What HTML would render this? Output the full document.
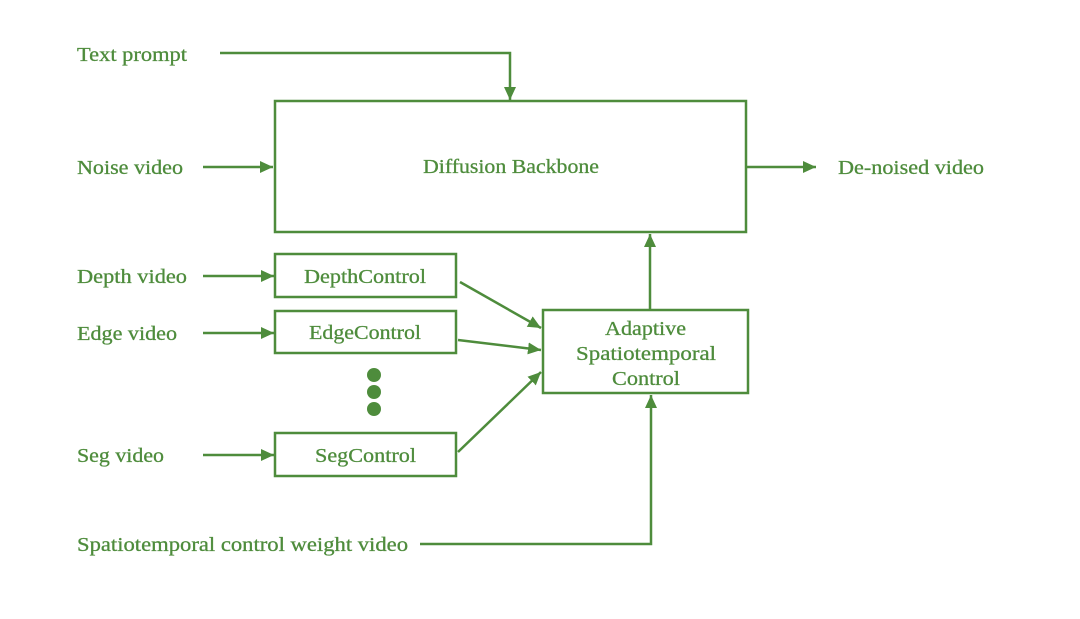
<!DOCTYPE html>
<html><head><meta charset="utf-8"><style>
html,body{margin:0;padding:0;background:#fff;}
svg{display:block}
text{font-family:"Liberation Serif",serif;font-size:20px;fill:#4e8c3c;stroke:#4e8c3c;stroke-width:0.3}
</style></head><body>
<svg width="1080" height="619" viewBox="0 0 1080 619">
<defs>
<marker id="b" markerWidth="14" markerHeight="14" refX="13" refY="6" orient="auto" markerUnits="userSpaceOnUse">
<path d="M0,0 L13,6 L0,12 z" fill="#4e8c3c"/></marker>
</defs>
<g fill="none" stroke="#4e8c3c" stroke-width="2.5">
<rect x="275" y="101" width="471" height="131"/>
<rect x="275" y="254" width="181" height="43"/>
<rect x="275" y="311" width="181" height="42"/>
<rect x="275" y="433" width="181" height="43"/>
<rect x="543" y="310" width="205" height="83"/>
<polyline points="220,53 510,53 510,100" marker-end="url(#b)"/>
<line x1="203" y1="167" x2="273" y2="167" marker-end="url(#b)"/>
<line x1="746" y1="167" x2="816" y2="167" marker-end="url(#b)"/>
<line x1="203" y1="276" x2="274" y2="276" marker-end="url(#b)"/>
<line x1="203" y1="333" x2="274" y2="333" marker-end="url(#b)"/>
<line x1="203" y1="455" x2="274" y2="455" marker-end="url(#b)"/>
<line x1="460" y1="282" x2="541" y2="328" marker-end="url(#b)"/>
<line x1="458" y1="340" x2="541" y2="350" marker-end="url(#b)"/>
<line x1="458" y1="452" x2="541" y2="372" marker-end="url(#b)"/>
<line x1="650" y1="309" x2="650" y2="234" marker-end="url(#b)"/>
<polyline points="420,544 651,544 651,395" marker-end="url(#b)"/>
</g>
<g fill="#4e8c3c"><circle cx="374" cy="375" r="7"/><circle cx="374" cy="392" r="7"/><circle cx="374" cy="409" r="7"/></g>
<text x="77" y="61" textLength="110" lengthAdjust="spacingAndGlyphs">Text prompt</text>
<text x="77" y="174" textLength="106" lengthAdjust="spacingAndGlyphs">Noise video</text>
<text x="77" y="283" textLength="110" lengthAdjust="spacingAndGlyphs">Depth video</text>
<text x="77" y="340" textLength="100" lengthAdjust="spacingAndGlyphs">Edge video</text>
<text x="77" y="462" textLength="87" lengthAdjust="spacingAndGlyphs">Seg video</text>
<text x="77" y="551" textLength="331" lengthAdjust="spacingAndGlyphs">Spatiotemporal control weight video</text>
<text x="838" y="174" textLength="146" lengthAdjust="spacingAndGlyphs">De-noised video</text>
<text x="423" y="173" textLength="176" lengthAdjust="spacingAndGlyphs">Diffusion Backbone</text>
<text x="304" y="283" textLength="122" lengthAdjust="spacingAndGlyphs">DepthControl</text>
<text x="309" y="339" textLength="112" lengthAdjust="spacingAndGlyphs">EdgeControl</text>
<text x="315" y="462" textLength="101" lengthAdjust="spacingAndGlyphs">SegControl</text>
<text x="605" y="335" textLength="81" lengthAdjust="spacingAndGlyphs">Adaptive</text>
<text x="576" y="360" textLength="140" lengthAdjust="spacingAndGlyphs">Spatiotemporal</text>
<text x="612" y="385" textLength="68" lengthAdjust="spacingAndGlyphs">Control</text>
</svg>
</body></html>
